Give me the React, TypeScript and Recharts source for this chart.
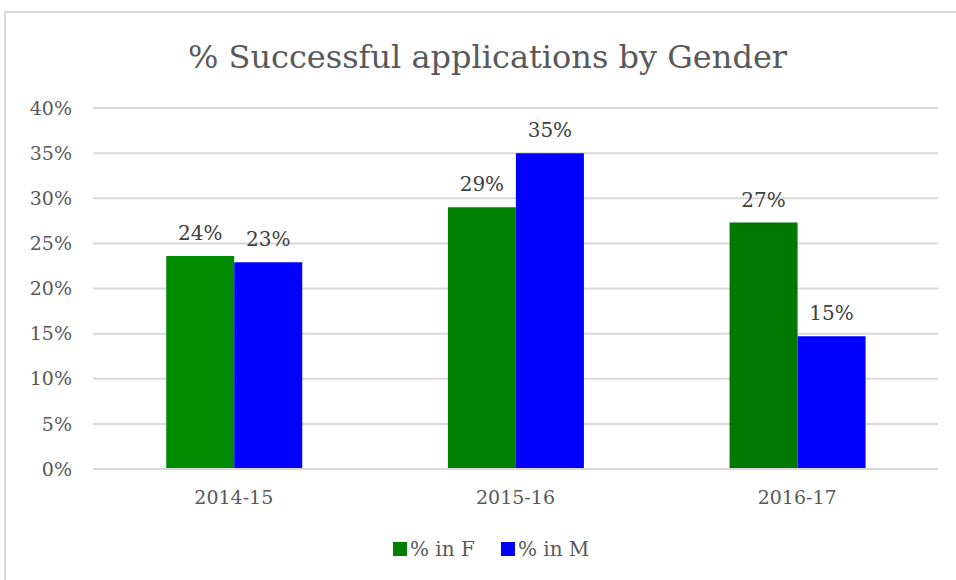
import React from 'react';
import { BarChart, Bar, XAxis, YAxis, CartesianGrid, LabelList, Cell } from 'recharts';

const years = ['2014-15', '2015-16', '2016-17'];
const pctF = [23.6, 29.0, 27.3];
const pctM = [22.9, 35.0, 14.7];
const greenShades = ['#008c00', '#008000', '#007800'];
const yTicks = [0, 5, 10, 15, 20, 25, 30, 35, 40];

const data = years.map((year, i) => ({ year, f: pctF[i], m: pctM[i] }));

const FONT = '"DejaVu Serif", "Liberation Serif", serif';
const TEXT = '#595959';

const fmtLabel = (v: number) => `${Math.round(v)}%`;

const App: React.FC = () => {
  return (
    <div style={{ position: 'absolute', left: 0, top: 0, width: 956, height: 580, background: '#fff', fontFamily: FONT }}>
      <div
        style={{
          position: 'absolute',
          left: 4,
          top: 11,
          width: 960,
          height: 600,
          border: '2px solid #d9d9d9',
          boxSizing: 'border-box',
        }}
      />
      <div
        style={{
          position: 'absolute',
          left: 0,
          top: 35,
          width: 975,
          textAlign: 'center',
          fontSize: 32,
          color: TEXT,
          lineHeight: '44px',
        }}
      >
        % Successful applications by Gender
      </div>
      <div style={{ position: 'absolute', left: 0, top: 0 }}>
        <BarChart
          width={956}
          height={580}
          data={data}
          margin={{ top: 108, right: 18, bottom: 81, left: 0 }}
          barCategoryGap="26%"
          barGap={0}
        >
          <CartesianGrid vertical={false} stroke="#d9d9d9" strokeWidth={2} />
          <XAxis
            dataKey="year"
            axisLine={{ stroke: '#d9d9d9', strokeWidth: 2 }}
            tickLine={false}
            tickSize={0}
            tickMargin={22}
            height={30}
            tick={{ fill: TEXT, fontSize: 19, fontFamily: FONT }}
          />
          <YAxis
            domain={[0, 40]}
            ticks={yTicks}
            width={93}
            axisLine={false}
            tickLine={false}
            tickSize={0}
            tickMargin={21}
            tickFormatter={(v: number) => `${v}%`}
            tick={{ fill: TEXT, fontSize: 19, fontFamily: FONT }}
          />
          <Bar dataKey="f" name="% in F" fill="#008000" isAnimationActive={false}>
            {data.map((d, i) => (
              <Cell key={d.year} fill={greenShades[i]} />
            ))}
            <LabelList
              dataKey="f"
              position="top"
              offset={16}
              formatter={fmtLabel}
              style={{ fill: '#404040', fontSize: 20, fontFamily: FONT }}
            />
          </Bar>
          <Bar dataKey="m" name="% in M" fill="#0000ff" isAnimationActive={false}>
            <LabelList
              dataKey="m"
              position="top"
              offset={16}
              formatter={fmtLabel}
              style={{ fill: '#404040', fontSize: 20, fontFamily: FONT }}
            />
          </Bar>
        </BarChart>
      </div>
      <div
        style={{
          position: 'absolute',
          left: 393,
          top: 537,
          display: 'flex',
          alignItems: 'center',
          fontSize: 20,
          color: TEXT,
          lineHeight: '24px',
        }}
      >
        <span style={{ display: 'inline-block', width: 14, height: 14, background: '#008000', marginRight: 3 }} />
        <span style={{ marginRight: 26 }}>% in F</span>
        <span style={{ display: 'inline-block', width: 14, height: 14, background: '#0000ff', marginRight: 3 }} />
        <span>% in M</span>
      </div>
    </div>
  );
};

export default App;
